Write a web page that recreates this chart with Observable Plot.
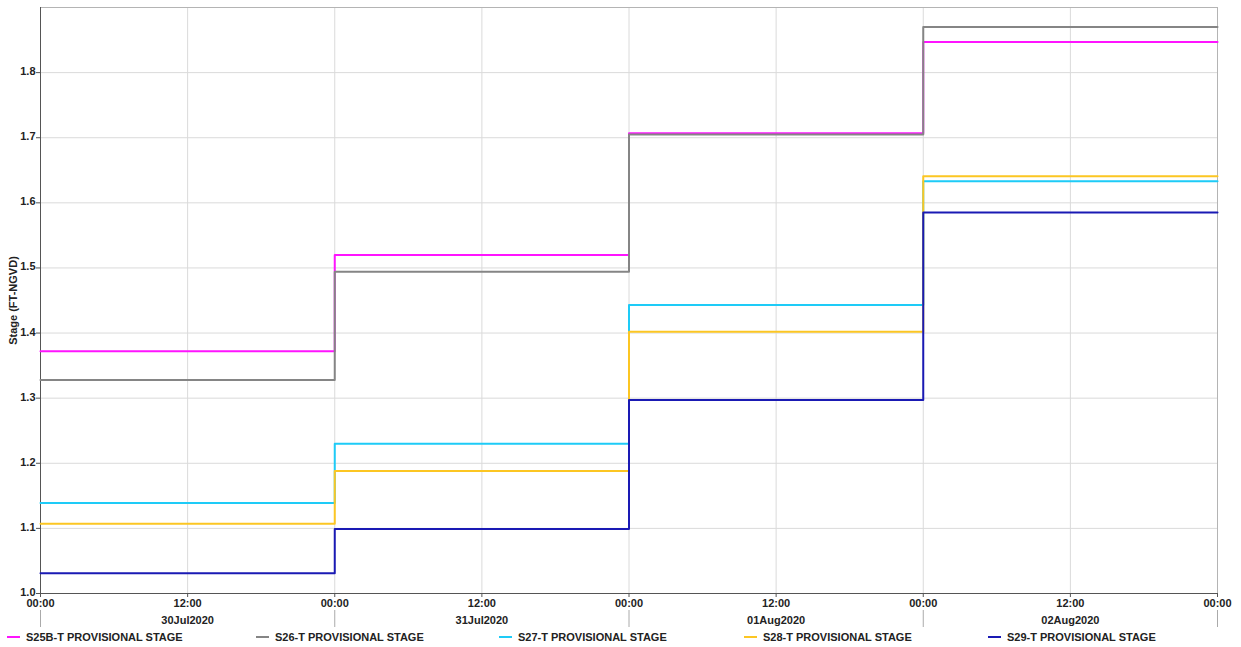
<!DOCTYPE html>
<html><head><meta charset="utf-8">
<script src="https://cdn.jsdelivr.net/npm/d3@7"></script>
<script src="https://cdn.jsdelivr.net/npm/@observablehq/plot@0.6"></script>
<style>
body{margin:0;background:#fff;font-family:"Liberation Sans",Arial,sans-serif;}
#legend{position:relative;height:19px;width:1241px;font-weight:bold;font-size:11px;color:#222;}
.item{position:absolute;top:2px;display:flex;align-items:center;white-space:nowrap;line-height:14px}
.sw{width:13px;height:2px;margin-right:6px}
</style></head><body><div id="chart"></div><div id="legend"></div>
<script>
const days = ["2020-07-30", "2020-07-31", "2020-08-01", "2020-08-02"];
const endDay = "2020-08-03";
const seriesNames = ["S25B-T PROVISIONAL STAGE", "S26-T PROVISIONAL STAGE", "S27-T PROVISIONAL STAGE", "S28-T PROVISIONAL STAGE", "S29-T PROVISIONAL STAGE"];
const seriesColors = ["#ff14ff", "#858585", "#1ecbf7", "#fcc623", "#1a1ab4"];
const s25b = [1.372, 1.520, 1.707, 1.847];
const s26 = [1.328, 1.494, 1.705, 1.870];
const s27 = [1.139, 1.230, 1.443, 1.633];
const s28 = [1.107, 1.188, 1.402, 1.641];
const s29 = [1.031, 1.099, 1.297, 1.585];
const yTicks = [1.0, 1.1, 1.2, 1.3, 1.4, 1.5, 1.6, 1.7, 1.8];
const yDomain = [1.0, 1.9];
const legendLeft = [7, 256, 499, 744, 988];

const allValues = [s25b, s26, s27, s28, s29];
const parse = s => new Date(s + "T00:00:00Z");
const x0 = parse(days[0]), x1 = parse(endDay);
const data = [];
seriesNames.forEach((name, i) => {
  const vals = allValues[i];
  days.forEach((d, j) => data.push({name, t: parse(d), v: vals[j]}));
  data.push({name, t: x1, v: vals[vals.length - 1]});
});
const halfDays = d3.utcHour.every(12).range(x0, new Date(+x1 + 1));
const midnights = d3.utcDay.range(x0, new Date(+x1 + 1));
const noons = halfDays.filter(d => d.getUTCHours() === 12);

const chart = Plot.plot({
  width: 1241, height: 628,
  marginLeft: 40, marginRight: 24, marginTop: 7, marginBottom: 35,
  style: {fontFamily: "'Liberation Sans', Arial, sans-serif", fontSize: "11px", fontWeight: "bold", color: "#222", background: "#fff"},
  x: {type: "utc", domain: [x0, x1]},
  y: {domain: yDomain},
  color: {domain: seriesNames, range: seriesColors},
  marks: [
    Plot.gridX(halfDays, {stroke: "#dadada", strokeOpacity: 1}),
    Plot.gridY(yTicks, {stroke: "#dadada", strokeOpacity: 1}),
    Plot.frame({stroke: "#b4b4b4"}),
    Plot.ruleX([x0], {stroke: "#555"}),
    Plot.ruleY([yDomain[0]], {stroke: "#555"}),
    Plot.line(data, {x: "t", y: "v", z: "name", stroke: "name", curve: "step-after", strokeWidth: 2}),
    Plot.axisY(yTicks, {tickFormat: () => "", tickSize: 4, stroke: "#555", label: null}),
    Plot.axisY(yTicks, {tickFormat: d3.format(".1f"), tickSize: 0, tickPadding: 5, dy: -1,
      label: "Stage (FT-NGVD)", labelAnchor: "center", labelArrow: "none", labelOffset: 31}),
    Plot.axisX(halfDays, {tickFormat: d3.utcFormat("%H:%M"), tickSize: 4, tickPadding: 2, stroke: "#555", label: null}),
    Plot.axisX(noons, {tickFormat: d3.utcFormat("%d%b%Y"), tickSize: 0, tickPadding: 23, label: null}),
    Plot.axisX(midnights, {tickFormat: () => "", tickSize: 17, dy: 17, stroke: "#aaa", label: null})
  ]
});
document.getElementById("chart").appendChild(chart);

const legend = document.getElementById("legend");
seriesNames.forEach((name, i) => {
  const it = document.createElement("div");
  it.className = "item";
  it.style.left = legendLeft[i] + "px";
  const sw = document.createElement("span");
  sw.className = "sw";
  sw.style.background = seriesColors[i];
  const tx = document.createElement("span");
  tx.textContent = name;
  it.appendChild(sw); it.appendChild(tx);
  legend.appendChild(it);
});
</script></body></html>
